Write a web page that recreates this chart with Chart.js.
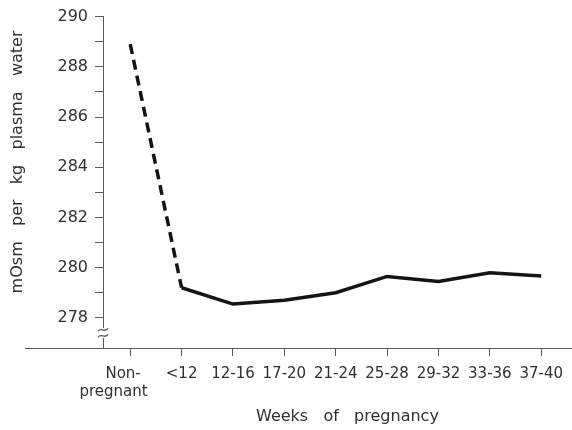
<!DOCTYPE html>
<html>
<head>
<meta charset="utf-8">
<script src="https://cdn.jsdelivr.net/npm/chart.js@4/dist/chart.umd.min.js"></script>
<style>
  html, body { margin: 0; padding: 0; background: #fff; }
  #wrap { width: 572px; height: 430px; }
</style>
</head>
<body>
<div id="wrap"><canvas id="c"></canvas></div>
<script>
// Plasma osmolality through pregnancy
const categories = ['Non-pregnant', '<12', '12-16', '17-20', '21-24', '25-28', '29-32', '33-36', '37-40'];
const osmolality = [288.9, 279.2, 278.55, 278.7, 279.0, 279.65, 279.45, 279.8, 279.67];
const yTickValues = [278, 279, 280, 281, 282, 283, 284, 285, 286, 287, 288, 289, 290];
const xTitle = 'Weeks of pregnancy';
const yTitle = 'mOsm per kg plasma water';

const ink = '#303030';
const axisColor = '#5a5a5a';
const fontFamily = '"DejaVu Sans", sans-serif';

// category label lines; the two-line label sits left of its tick
function labelLines(i) {
  const c = categories[i];
  if (c === 'Non-pregnant') return ['Non-   ', 'pregnant       '];
  return c;
}

// wide word spacing used by both axis titles
const spaced = (s, n) => s.split(' ').join(' '.repeat(n));

// broken y axis mark and x baseline running past the y axis
const axisDecor = {
  id: 'axisDecor',
  afterDraw(chart) {
    const { ctx, chartArea, scales } = chart;
    const x0 = chartArea.left;
    const yb = scales.y.getPixelForValue(277.4);
    ctx.save();
    ctx.strokeStyle = axisColor;
    ctx.lineWidth = 1;
    ctx.beginPath();
    ctx.moveTo(25, chartArea.bottom + 0.5);
    ctx.lineTo(x0, chartArea.bottom + 0.5);
    ctx.stroke();
    ctx.fillStyle = '#fff';
    ctx.fillRect(x0 - 3, yb - 5, 6, 10);
    ctx.lineWidth = 1.3;
    [-3, 3].forEach(d => {
      const yy = yb + d;
      ctx.beginPath();
      ctx.moveTo(x0 - 5, yy + 1.5);
      ctx.bezierCurveTo(x0 - 2, yy - 3.5, x0 + 2, yy + 3.5, x0 + 5, yy - 1.5);
      ctx.stroke();
    });
    ctx.restore();
  }
};

new Chart(document.getElementById('c'), {
  type: 'line',
  data: {
    datasets: [{
      data: osmolality.map((v, i) => ({ x: i, y: v })),
      borderColor: '#141414',
      borderWidth: 3.5,
      borderCapStyle: 'butt',
      pointRadius: 0,
      tension: 0,
      segment: {
        borderDash: ctx => ctx.p0DataIndex === 0 ? [10, 6] : undefined
      }
    }]
  },
  options: {
    responsive: true,
    maintainAspectRatio: false,
    animation: false,
    devicePixelRatio: 1,
    layout: { padding: { left: 0, top: 13, right: 0, bottom: 0 } },
    plugins: { legend: { display: false }, tooltip: { enabled: false } },
    scales: {
      x: {
        type: 'linear',
        min: -0.53,
        max: 8.59,
        afterBuildTicks: s => { s.ticks = categories.map((_, i) => ({ value: i })); },
        afterFit: s => { s.height = 82; },
        grid: { drawOnChartArea: false, drawTicks: true, tickLength: 8, color: axisColor },
        border: { color: axisColor, width: 1 },
        ticks: {
          autoSkip: false,
          maxRotation: 0,
          padding: 9,
          color: ink,
          font: { family: fontFamily, size: 15 },
          callback: v => labelLines(v)
        },
        title: {
          display: true,
          text: '    ' + spaced(xTitle, 3),
          color: ink,
          font: { family: fontFamily, size: 16 },
          padding: { top: 0, bottom: 4 }
        }
      },
      y: {
        min: 276.8,
        max: 290,
        afterBuildTicks: s => { s.ticks = yTickValues.map(v => ({ value: v })); },
        afterFit: s => { s.width = 103; },
        grid: { drawOnChartArea: false, drawTicks: true, tickLength: 8, color: axisColor },
        border: { color: axisColor, width: 1 },
        ticks: {
          padding: 7,
          color: ink,
          font: { family: fontFamily, size: 16 },
          callback: v => (v % 2 === 0 ? String(v) : '')
        },
        title: {
          display: true,
          text: '        ' + spaced(yTitle, 3),
          color: ink,
          font: { family: fontFamily, size: 16 },
          padding: { top: 8, bottom: 0 }
        }
      }
    }
  },
  plugins: [axisDecor]
});
</script>
</body>
</html>
